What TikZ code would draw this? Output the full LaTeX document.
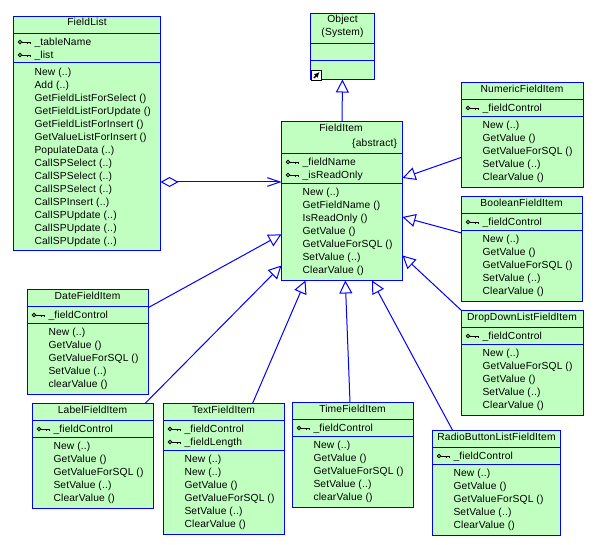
\documentclass[tikz,border=0pt]{standalone}
\usepackage{fontspec}
\setmainfont{Liberation Sans}[LetterSpace=1.5]
\usetikzlibrary{arrows.meta,calc}
\definecolor{umlfill}{RGB}{192,255,192}
\definecolor{umlline}{RGB}{0,0,255}
\newcommand{\umlclass}[7]{% name,x1,y1,x2,y2,line1,line2
  \node[classbox,minimum width=#4pt*.75-#2pt*.75,minimum height=#5pt*.75-#3pt*.75] (#1) at ({(#2+#4)/2},{(#3+#5)/2}) {};
  \draw[sep] (#2,#6) -- (#4,#6);
  \draw[sep] (#2,#7) -- (#4,#7);
}
\newcommand{\umlkey}[2]{% x, y of key ring centre
  \draw[keyline] (#1,#2) circle (1.7);
  \draw[keyline] (#1+1.7,#2) -- (#1+10,#2) -- (#1+10,#2+1.8);
  \draw[keyline] (#1+7,#2) -- (#1+7,#2+1.8);
}
\newcommand{\umltitle}[4]{\node[umltxt,anchor=base] (#1) at (#2,#3+3.5) {#4};}
\newcommand{\umlmem}[3]{% x, y first, comma list
  \foreach \t [count=\i from 0] in {#3} {
    \node[umltxt,anchor=base west] at (#1,{#2+3.5+13*\i}) {\t};
  }
}
\newcommand{\umlattr}[3]{% x, y, text
  \umlkey{#1-14.5}{#2}
  \node[umltxt,anchor=base west] at (#1,#2+3.5) {#3};
}
\tikzset{
  classbox/.style={draw=umlline,fill=umlfill,line width=0.75pt,inner sep=0pt,outer sep=0pt},
  sep/.style={draw=umlline,line width=0.75pt},
  keyline/.style={draw=black,line width=0.65pt},
  umltxt/.style={font=\fontsize{7.7pt}{9pt}\selectfont,text=black,inner sep=0pt,outer sep=0pt},
  conn/.style={draw=umlline,line width=0.75pt},
  gen/.style={conn,-{Triangle[open,fill=white,length=9.75pt,width=9.75pt,line width=0.75pt]}},
  agg/.style={conn,{Diamond[open,fill=white,length=13.5pt,width=7.5pt,line width=0.75pt]}-{Straight Barb[length=9.5pt,width=6.5pt,line width=0.75pt]}}
}
\begin{document}
\begin{tikzpicture}[x=0.75pt,y=-0.75pt]
\useasboundingbox (0,0) rectangle (596,545);
\fill[white] (0,0) rectangle (596,545);
% classes
\umlclass{fieldlist}{13.5}{16.5}{160.5}{251}{33.5}{63}
\umltitle{tfieldlist}{87}{22.5}{FieldList}
\umlattr{34.5}{42}{\_tableName}
\umlattr{34.5}{55}{\_list}
\umlmem{34.5}{72}{New (..),Add (..),GetFieldListForSelect (),GetFieldListForUpdate (),GetFieldListForInsert (),GetValueListForInsert (),PopulateData (..),CallSPSelect (..),CallSPSelect (..),CallSPSelect (..),CallSPInsert (..),CallSPUpdate (..),CallSPUpdate (..),CallSPUpdate (..)}

\umlclass{object}{310.5}{13.5}{374.5}{79.5}{43.5}{60.5}
\umltitle{tobject}{342.5}{19.5}{Object}
\umltitle{tsystem}{342.5}{32.5}{(System)}
\draw[draw=black,fill=white,line width=0.6pt] (311,70) rectangle (321,80);
\draw[-{Latex[length=4pt,width=4pt]},line width=1.1pt,black] (314,78) -- (319.5,72);

\umlclass{item}{281.5}{121.5}{402.5}{280.5}{153.5}{183.5}
\umltitle{titem}{341}{128}{FieldItem}
\node[umltxt,anchor=base east] (tabs) at (397,146.5) {\{abstract\}};
\umlattr{302.5}{162}{\_fieldName}
\umlattr{302.5}{175}{\_isReadOnly}
\umlmem{302.5}{192}{New (..),GetFieldName (),IsReadOnly (),GetValue (),GetValueForSQL (),SetValue (..),ClearValue ()}

\umlclass{numeric}{461.5}{82.5}{583.5}{187.5}{99.5}{116.5}
\umltitle{tnum}{522}{89}{NumericFieldItem}
\umlattr{482.5}{108}{\_fieldControl}
\umlmem{482.5}{125}{New (..),GetValue (),GetValueForSQL (),SetValue (..),ClearValue ()}

\umlclass{boolean}{461.5}{196.5}{582.5}{301.5}{213.5}{230.5}
\umltitle{tbool}{521.5}{203}{BooleanFieldItem}
\umlattr{482.5}{222}{\_fieldControl}
\umlmem{482.5}{239}{New (..),GetValue (),GetValueForSQL (),SetValue (..),ClearValue ()}

\umlclass{dropdown}{461.5}{310.5}{583.5}{415.5}{327.5}{344.5}
\umltitle{tdrop}{522}{317}{DropDownListFieldItem}
\umlattr{482.5}{336}{\_fieldControl}
\umlmem{482.5}{353}{New (..),GetValueForSQL (),GetValue (),SetValue (..),ClearValue ()}

\umlclass{date}{27.5}{289.5}{148.5}{394.5}{306.5}{323.5}
\umltitle{tdate}{87.5}{296}{DateFieldItem}
\umlattr{48.5}{315}{\_fieldControl}
\umlmem{48.5}{332}{New (..),GetValue (),GetValueForSQL (),SetValue (..),clearValue ()}

\umlclass{label}{32.5}{403.5}{153.5}{508.5}{420.5}{437.5}
\umltitle{tlabel}{92.5}{410}{LabelFieldItem}
\umlattr{53.5}{429}{\_fieldControl}
\umlmem{53.5}{446}{New (..),GetValue (),GetValueForSQL (),SetValue (..),ClearValue ()}

\umlclass{textitem}{163.5}{403.5}{284.5}{534.5}{420.5}{450.5}
\umltitle{ttext}{223.5}{410}{TextFieldItem}
\umlattr{184.5}{429}{\_fieldControl}
\umlattr{184.5}{442}{\_fieldLength}
\umlmem{184.5}{459}{New (..),New (..),GetValue (),GetValueForSQL (),SetValue (..),ClearValue ()}

\umlclass{timeitem}{292.5}{402.5}{413.5}{507.5}{419.5}{436.5}
\umltitle{ttime}{352.5}{409}{TimeFieldItem}
\umlattr{313.5}{428}{\_fieldControl}
\umlmem{313.5}{445}{New (..),GetValue (),GetValueForSQL (),SetValue (..),clearValue ()}

\umlclass{radio}{432.5}{430.5}{560.5}{535.5}{447.5}{464.5}
\umltitle{tradio}{496.5}{437}{RadioButtonListFieldItem}
\umlattr{453.5}{456}{\_fieldControl}
\umlmem{453.5}{473}{New (..),GetValue (),GetValueForSQL (),SetValue (..),ClearValue ()}

% connectors
\draw[agg] ($(fieldlist.north east)+(0,165.5)$) -- ($(item.north west)+(0,60.5)$);
\draw[gen] (item.north) -- (object.south);
\draw[gen] ($(numeric.north west)+(0,74.8)$) -- ($(item.north east)+(0,56.5)$);
\draw[gen] ($(boolean.north west)+(0,36.5)$) -- ($(item.north east)+(0,95.5)$);
\draw[gen] (dropdown.north west) -- ($(item.north east)+(0,134)$);
\draw[gen] ($(date.north east)+(0,18)$) -- ($(item.north west)+(0,112.8)$);
\draw[gen] ($(label.north east)+(-8.5,0)$) -- ($(item.north west)+(0,144)$);
\draw[gen] ($(textitem.north east)+(-32,0)$) -- ($(item.south west)+(24,0)$);
\draw[gen] ($(timeitem.north west)+(57.5,0)$) -- ($(item.south west)+(63.8,0)$);
\draw[gen] ($(radio.north west)+(20.2,0)$) -- ($(item.south east)+(-30.5,0)$);
\end{tikzpicture}
\end{document}
